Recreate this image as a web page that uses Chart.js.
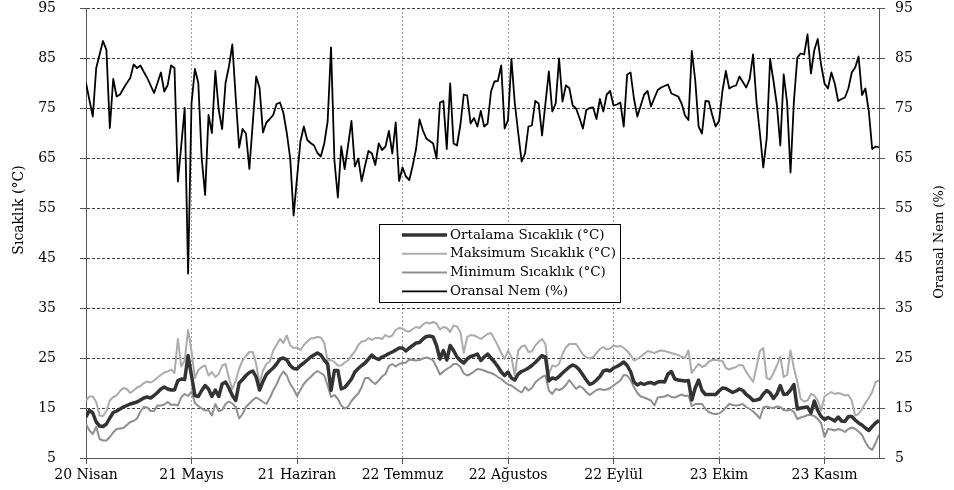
<!DOCTYPE html>
<html>
<head>
<meta charset="utf-8">
<script src="https://cdn.jsdelivr.net/npm/chart.js@4.4.1/dist/chart.umd.min.js"></script>
<style>
  html, body { margin: 0; padding: 0; background: #fff; }
</style>
</head>
<body>
<canvas id="chart" width="954" height="490"></canvas>
<script>
// x axis: one point per day starting 20 Nisan, a labelled tick every 31 days
const tickLabels = ["20 Nisan", "21 Mayıs", "21 Haziran", "22 Temmuz", "22 Ağustos", "22 Eylül", "23 Ekim", "23 Kasım"];
const seriesNames = ["Ortalama Sıcaklık (°C)", "Maksimum Sıcaklık (°C)", "Minimum Sıcaklık (°C)", "Oransal Nem (%)"];
const leftTitle = "Sıcaklık (°C)";
const rightTitle = "Oransal Nem (%)";

const meanTemp = [
  13.2, 14.5, 14, 12.2, 11.4, 11.3, 11.8, 13, 14.1, 14.4,
  14.8, 15.2, 15.5, 15.8, 16, 16.2, 16.6, 17, 17.2, 17,
  17.5, 18.1, 18.8, 19.2, 18.8, 18.6, 18.6, 20.5, 20.8, 20.7,
  25.5, 21.5, 17.5, 17.3, 18.5, 19.5, 18.8, 17.3, 18.6, 17.3,
  19.8, 20.2, 19, 17.5, 16.5, 20, 20.7, 21.5, 22.1, 22.4,
  21.2, 18.6, 20.3, 21.7, 22.4, 23, 23.8, 24.8, 25, 24.6,
  23.5, 22.9, 22.8, 23.5, 24, 24.6, 25.2, 25.6, 26, 25.6,
  24.6, 23.8, 18.5, 22.5, 22.5, 18.8, 19.1, 19.9, 20.8, 22.2,
  22.9, 23.5, 24, 24.8, 25.6, 25, 24.7, 25.2, 25.5, 25.9,
  26.2, 26.6, 27, 27, 26.4, 27, 27.5, 28, 28.1, 28.8,
  29.3, 29.4, 29.2, 27.5, 24.8, 26.5, 24.6, 27.5, 26.5, 25.2,
  24.5, 24, 24.8, 25.3, 25.5, 25.8, 24.5, 25.2, 25.8, 25,
  24.2, 23.3, 22.2, 21.5, 22.2, 21, 20.6, 21.8, 22.3, 22.6,
  23, 23.5, 24.1, 24.8, 25.5, 25.2, 20.4, 21, 20.8, 21.3,
  22, 22.6, 23.2, 23.6, 23.3, 22.6, 21.6, 20.6, 19.7, 20,
  20.6, 21.3, 22.4, 22.6, 22.4, 23, 23.3, 23.7, 24.2, 23.5,
  22.3, 20.2, 19.6, 20, 19.7, 20, 20.1, 19.8, 20.2, 20.3,
  20.2, 21.8, 22.3, 20.8, 20.6, 20.5, 20.4, 20.5, 16.6, 19,
  20.6, 18.5, 17.7, 17.7, 17.7, 17.7, 18.4, 19, 18.9, 18.5,
  18.1, 18.4, 18.8, 18.5, 17.7, 17.2, 16.5, 16.6, 16.8, 17.8,
  18.5, 18, 16.9, 17.8, 19.5, 17.7, 17.8, 18.6, 19.7, 14.8,
  15, 15.1, 15.2, 14, 16.4, 14.5, 13.3, 12.7, 13.1, 12.8,
  12.4, 13.2, 12.4, 12.3, 13.3, 13.3, 12.6, 12, 11.6, 11,
  10.5, 11.3, 12, 12.5
];

const maxTemp = [
  16.5, 17.3, 17.3, 16.2, 13.5, 13.4, 14.4, 16.5, 17.2, 17.5,
  18.4, 19, 18.8, 18, 18.5, 19.1, 19.4, 20, 20.3, 20.1,
  20.5, 21.1, 21.6, 22.1, 22.3, 22.7, 22, 28.8, 23.3, 24.5,
  30.6, 26.4, 21, 22.6, 23.2, 23.5, 21.5, 22.2, 21.2, 21.8,
  23.5, 23.8, 21, 18.8, 20.5, 22.9, 24.5, 25.4, 26.2, 26.2,
  23.8, 19.8, 22.5, 23.8, 24.3, 26.5, 27.6, 28.8, 28, 29.5,
  27.5, 27, 27.1, 26.6, 27.6, 28.3, 28.9, 29, 29.2, 29.1,
  28, 24.5, 24.6, 24.2, 23.5, 23.5, 24.1, 24.5, 25.5, 26.3,
  27.6, 28.3, 28.4, 29, 28.6, 29, 29, 28.8, 29.6, 29.2,
  29.5, 30.6, 31, 30.9, 30.4, 30.3, 30.8, 31.2, 31, 31.7,
  32.1, 31.9, 32.2, 31.9, 30.7, 31.2, 31, 30.2, 31.5, 31.3,
  30.2, 26, 29.2, 29.6, 29.5, 29.2, 28.8, 29.3, 29.8, 30,
  28.8, 27.5, 26, 24.8, 26.5, 25.2, 21.5, 26.5, 27.3, 27.5,
  26.2, 26.3, 27.5, 28.2, 28.8, 27.8, 21.7, 23.5, 23.3, 23.8,
  25.8, 27.1, 27.8, 27.8, 27.8, 26.8, 25.7, 25.1, 24.9, 25.2,
  26, 26.8, 27.2, 26.7, 26.9, 27.5, 27.3, 27.4, 27, 26.4,
  25.6, 24.5, 24.8, 25.3, 25.8, 26.4, 26.2, 26, 26.3, 26.5,
  26.4, 26.2, 26, 25.8, 25.6, 25.2, 25, 26.5, 22, 23,
  23.8, 23.2, 23.5, 24.3, 24.6, 24.6, 24.5, 24.4, 23, 22.7,
  23, 23.2, 23.6, 23.5, 22.2, 21.2, 20.2, 23.2, 26.4, 27,
  21, 20.7, 22, 23.5, 25.3, 21.2, 21.6, 26.5, 23, 20.2,
  16.8, 16.3, 16.5, 17.8, 17.5, 16.5, 14.5, 17.3, 17.8, 18.2,
  17.8, 18, 17.8, 17.5, 17.6, 16.5, 13.5, 13.8, 14.8, 16,
  17, 18.2, 20.2, 20.5
];

const minTemp = [
  11.8, 10.5, 9.8, 11.2, 8.8, 8.5, 8.5, 9.2, 10.1, 10.8,
  10.9, 11, 11.6, 12.2, 12.4, 12.9, 14.3, 15.2, 15.1, 14.4,
  14.4, 15.5, 15.5, 15.7, 16.2, 15.6, 15.7, 15.5, 17.2, 17.8,
  17.4, 18.3, 16, 15.4, 14.9, 14.5, 14.6, 13.5, 15.8, 14.4,
  14.6, 15.8, 16.3, 15.9, 15.2, 12.9, 13.8, 15.2, 15.9, 16.6,
  17.1, 16.7, 16.2, 15.8, 17, 18.5, 19.7, 21.3, 22.3, 21.5,
  19.8, 18.8, 17.4, 18.6, 19.8, 20.6, 21.2, 21.9, 22.4, 22,
  21.5, 19.5, 17.2, 17.6, 16.8, 15.5, 14.9, 15.3, 16.4, 17.2,
  17.9, 19.2, 21, 21, 20.3, 19.8, 20.5, 21.3, 21.8, 23.4,
  23.8, 23.3, 23.8, 24, 24.1, 24.7, 24.6, 24.5, 24.6, 24.9,
  25.1, 24.9, 24.5, 23.2, 21.7, 22.3, 22.8, 23.2, 23.8, 23.8,
  23.2, 21.9, 21.5, 21.8, 22.3, 22.8, 22.7, 22.5, 22.2, 22,
  21.7, 21.2, 20.8, 20.2, 19.7, 19.5, 19, 18.5, 18.1, 19.2,
  18.5, 19, 20.1, 20.7, 21.2, 21.5, 18.5, 17.8, 18.8, 18.6,
  18.9, 19.6, 20.6, 19.7, 18.8, 19.4, 19, 18.2, 17.6, 18.1,
  18.6, 18.8, 18.6, 18.7, 19, 19.5, 20, 20.5, 21.6, 21.5,
  20.6, 19.2, 18, 17.3, 17.1, 16.8, 16.5, 15.5, 17.1, 17.2,
  17.3, 17.6, 17.2, 17.1, 17.4, 17.7, 17.4, 17.5, 15.4, 15.8,
  15.8, 15.8, 14.8, 14.2, 13.9, 13.8, 13.9, 14.4, 15.1, 15.8,
  15.6, 15.5, 15.6, 15.8, 15.2, 14.8, 14.3, 13.7, 12.9, 15.1,
  15.3, 15.1, 15, 15.3, 15.2, 14.6, 14.5, 14.7, 14.2, 12.8,
  13.1, 13.3, 13.6, 13.6, 13.4, 12.8, 12, 9.2, 10.8, 10.7,
  10.5, 10.8, 10.6, 10.2, 10.8, 11.1, 10.8, 10.3, 9.6, 8.2,
  7.1, 6.6, 8, 9.7
];

const humidity = [
  80, 76.6, 73.3, 83, 85.7, 88.4, 86.6, 71, 80.8, 77.3,
  77.7, 78.9, 80, 81, 83.7, 83, 83.5, 82.2, 81, 79.5,
  78, 80, 82.1, 78.3, 79.6, 83.5, 83, 60.3, 67.6, 75,
  41.9, 75.9, 82.8, 80, 64.9, 57.6, 73.6, 70, 82.4, 74.6,
  70.8, 80, 83.3, 87.7, 77, 67.1, 70.8, 69.9, 62.8, 72,
  81.3, 79, 70.1, 72.1, 72.8, 73.6, 75.8, 76.1, 74, 70,
  64.9, 53.5, 61, 68.3, 71.3, 68.6, 68, 67.5, 66, 65.3,
  67.9, 72.3, 87.1, 64.4, 57.1, 67.3, 62.8, 67.5, 72.4, 63.3,
  64.9, 60.4, 63.5, 66.4, 65.9, 63.6, 67.9, 66.6, 67.3, 70.4,
  65.9, 72.1, 60.4, 63.1, 61.3, 60.6, 63.5, 66.9, 72.7, 70.5,
  68.9, 68.4, 67.9, 64.9, 76.1, 76.4, 66.8, 79.9, 67.9, 67.5,
  71.6, 77.7, 77.5, 71.9, 73, 71.3, 74.4, 71.3, 71.9, 78.3,
  80.3, 80.4, 83.5, 70.9, 72.6, 84.8, 75.9, 70, 64.3, 65.9,
  71.3, 71.5, 76.4, 75.9, 69.5, 76, 82.3, 74.3, 75.9, 84.9,
  76.3, 79.5, 79, 75.5, 74.9, 73, 70.9, 74.6, 75, 75.1,
  72.8, 76.8, 74.3, 77.7, 78.4, 75.5, 75.7, 76.1, 71.3, 81.7,
  82.1, 76.9, 73.3, 75.5, 77.7, 78.4, 75.3, 77, 78.6, 79.1,
  79.4, 79.7, 77.9, 77.6, 77.3, 75.9, 73.5, 72.6, 86.4, 80.6,
  71.3, 69.9, 76.4, 76.3, 73.6, 71.3, 72.4, 78.4, 82.4, 78.9,
  79.3, 79.5, 81.3, 80.2, 79.1, 80.8, 85.7, 76.3, 70, 63.1,
  68.9, 84.8, 80.4, 75.6, 67.5, 81.7, 76.1, 62.1, 76.4, 85.1,
  85.9, 85.7, 89.7, 81.9, 86.6, 88.8, 83.6, 79.9, 78.9, 82.1,
  79.9, 76.4, 76.8, 77.1, 78.9, 82.1, 83.1, 85.3, 77.6, 78.9,
  74.4, 66.8, 67.3, 67.1
];

const FONT = "'DejaVu Serif', 'Liberation Serif', serif";
const toPoints = (arr) => arr.map((v, i) => ({ x: i, y: v }));

// axis titles (right one reads bottom-to-top) and the boxed legend inside the plot
const extrasPlugin = {
  id: "extras",
  afterDraw(chart) {
    const ctx = chart.ctx;

    ctx.save();
    ctx.fillStyle = "#000";
    ctx.font = "14px " + FONT;
    ctx.textAlign = "center";
    ctx.textBaseline = "middle";
    ctx.translate(19, 210);
    ctx.rotate(-Math.PI / 2);
    ctx.fillText(leftTitle, 0, 0);
    ctx.restore();

    ctx.save();
    ctx.fillStyle = "#000";
    ctx.font = "13px " + FONT;
    ctx.textAlign = "center";
    ctx.textBaseline = "middle";
    ctx.translate(940, 242);
    ctx.rotate(-Math.PI / 2);
    ctx.fillText(rightTitle, 0, 0);
    ctx.restore();

    // legend box
    const bx = 379, by = 224, bw = 241, bh = 78;
    ctx.save();
    ctx.fillStyle = "#fff";
    ctx.fillRect(bx, by, bw, bh);
    ctx.strokeStyle = "#000";
    ctx.lineWidth = 1;
    ctx.strokeRect(bx + 0.5, by + 0.5, bw, bh);
    ctx.font = "13.5px " + FONT;
    ctx.textBaseline = "middle";
    ctx.textAlign = "left";
    chart.data.datasets.forEach((ds, i) => {
      const y = by + 11 + i * 18.8;
      ctx.strokeStyle = ds.borderColor;
      ctx.lineWidth = ds.borderWidth;
      ctx.beginPath();
      ctx.moveTo(402, y);
      ctx.lineTo(447, y);
      ctx.stroke();
      ctx.fillStyle = "#000";
      ctx.fillText(ds.label, 450, y);
    });
    ctx.restore();
  }
};

const noVerticalPadding = (scale) => {
  scale.paddingTop = 0;
  scale.paddingBottom = 0;
};

new Chart(document.getElementById("chart"), {
  type: "line",
  data: {
    datasets: [
      { label: seriesNames[0], data: toPoints(meanTemp), borderColor: "#333333", borderWidth: 3.5, yAxisID: "y" },
      { label: seriesNames[1], data: toPoints(maxTemp), borderColor: "#ababab", borderWidth: 2, yAxisID: "y" },
      { label: seriesNames[2], data: toPoints(minTemp), borderColor: "#8f8f8f", borderWidth: 2, yAxisID: "y" },
      { label: seriesNames[3], data: toPoints(humidity), borderColor: "#000000", borderWidth: 1.8, yAxisID: "y1" }
    ]
  },
  options: {
    responsive: false,
    animation: false,
    layout: { padding: { top: 8, right: 0, bottom: 0, left: 0 } },
    elements: {
      point: { radius: 0 },
      line: { tension: 0, borderJoinStyle: "round" }
    },
    plugins: {
      legend: { display: false },
      tooltip: { enabled: false }
    },
    scales: {
      x: {
        type: "linear",
        min: 0,
        max: humidity.length - 1,
        bounds: "data",
        afterFit: (scale) => { scale.height = 32; },
        grid: { color: "#9a9a9a", lineWidth: 1, tickLength: 6, tickColor: "#555" },
        border: { color: "#555", width: 1, dash: [2, 2] },
        ticks: {
          stepSize: 31,
          includeBounds: false,
          autoSkip: false,
          maxRotation: 0,
          padding: 3,
          color: "#000",
          font: { family: FONT, size: 14 },
          callback: (value) => tickLabels[Math.round(value / 31)]
        }
      },
      y: {
        position: "left",
        min: 5,
        max: 95,
        afterFit: (scale) => { scale.width = 86; noVerticalPadding(scale); },
        grid: { color: "#444", lineWidth: 1, tickLength: 6, tickColor: "#555" },
        border: { color: "#555", width: 1, dash: [3, 2] },
        ticks: { stepSize: 10, padding: 24, color: "#000", font: { family: FONT, size: 14 } }
      },
      y1: {
        position: "right",
        min: 5,
        max: 95,
        afterFit: (scale) => { scale.width = 75; noVerticalPadding(scale); },
        grid: { drawOnChartArea: false, tickLength: 6, tickColor: "#555" },
        border: { color: "#555", width: 1 },
        ticks: { stepSize: 10, padding: 10, color: "#000", font: { family: FONT, size: 14 } }
      }
    }
  },
  plugins: [extrasPlugin]
});
</script>
</body>
</html>
